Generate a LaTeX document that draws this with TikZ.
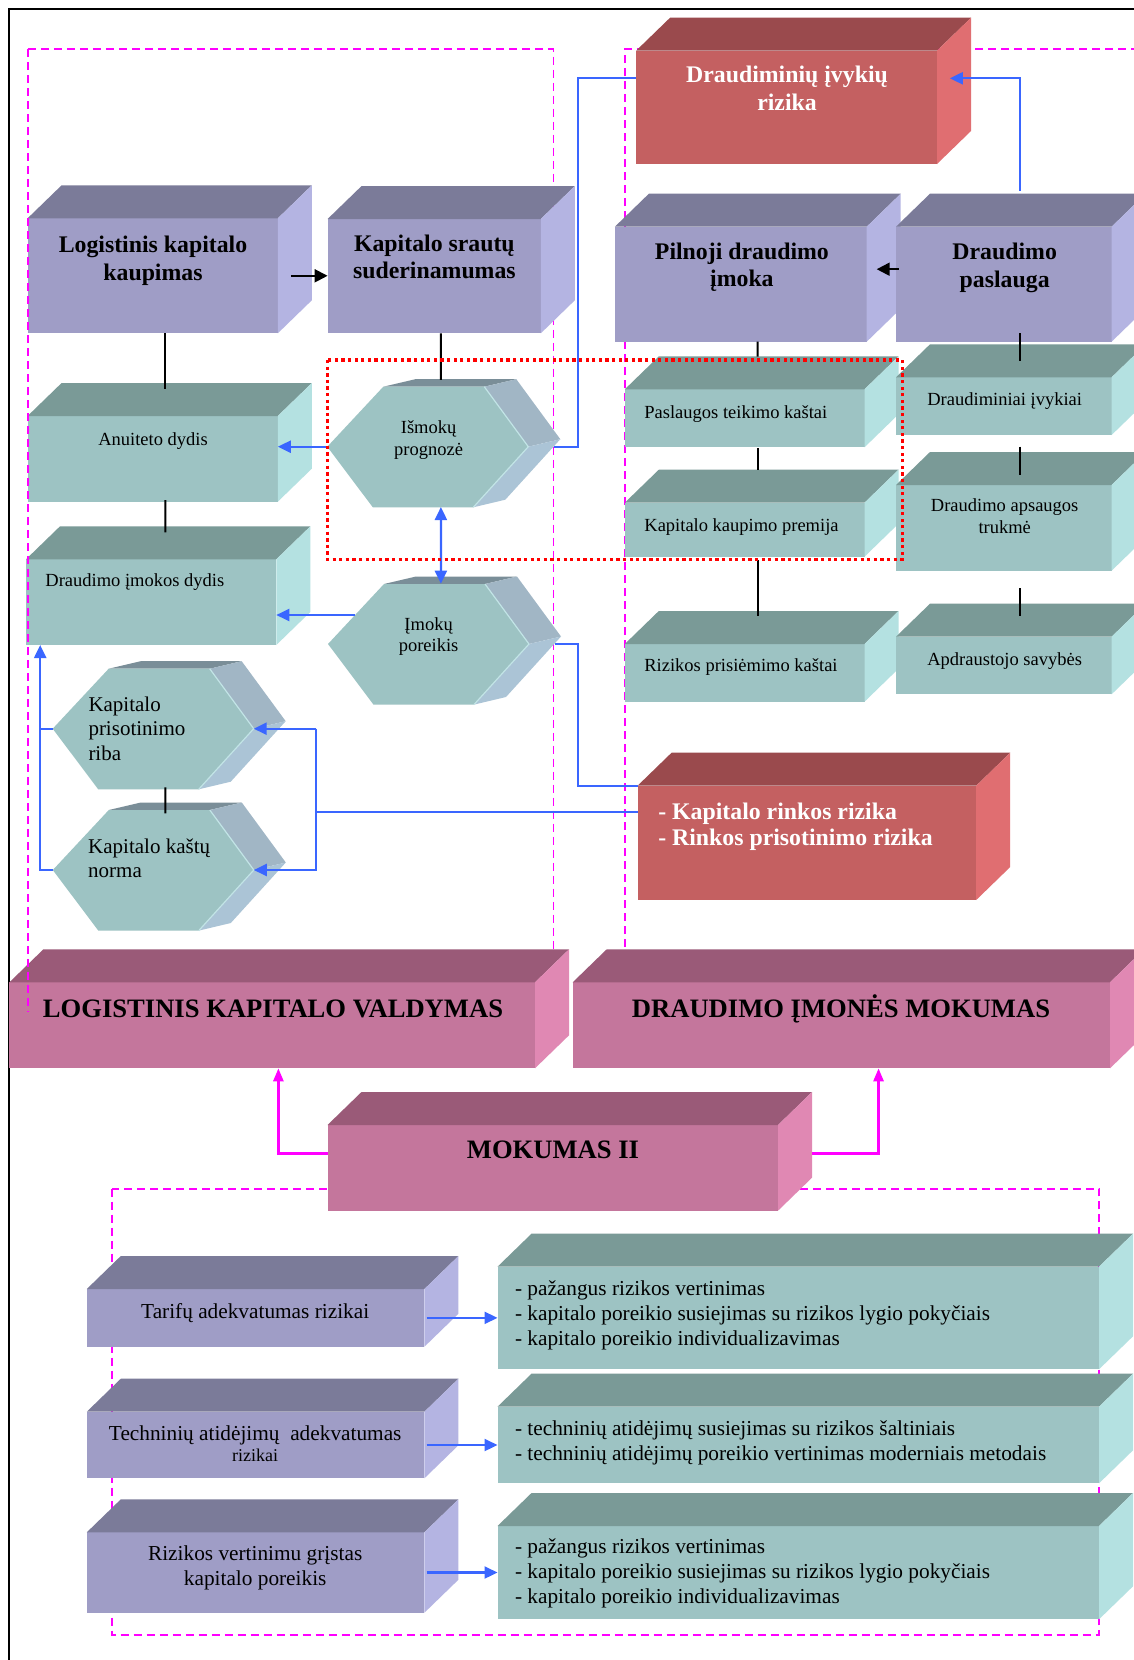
\documentclass[tikz,border=0pt]{standalone}
\usepackage{fontspec}
\setmainfont{Liberation Serif}
\usetikzlibrary{calc,arrows.meta}

\definecolor{pufront}{HTML}{9F9DC6}
\definecolor{putop}{HTML}{7B7B99}
\definecolor{puside}{HTML}{B4B4E2}
\definecolor{tefront}{HTML}{9DC3C3}
\definecolor{tetop}{HTML}{7A9A97}
\definecolor{teside}{HTML}{B4E1E1}
\definecolor{refront}{HTML}{C46061}
\definecolor{retop}{HTML}{9A4A4D}
\definecolor{reside}{HTML}{E06E71}
\definecolor{pifront}{HTML}{C4769C}
\definecolor{pitop}{HTML}{9A5A78}
\definecolor{piside}{HTML}{E088B3}
\definecolor{hxtop}{HTML}{7A8E98}
\definecolor{hxup}{HTML}{A1B6C5}
\definecolor{hxlow}{HTML}{ABC4D6}
\definecolor{hxedge}{HTML}{C2E4E6}
\definecolor{lblue}{HTML}{3A66FF}
\definecolor{mag}{HTML}{FF00FF}

\tikzset{
  facebox/.style={rectangle, inner sep=0pt, outer sep=0pt, draw=none},
  hexnode/.style={rectangle, inner sep=0pt, outer sep=0pt, draw=none, minimum width=201pt, minimum height=120.6pt},
  ttl/.style={font=\fontsize{23.8}{27.5}\selectfont\bfseries, align=center, inner sep=0pt, anchor=base},
  wt/.style={ttl, text=white},
  sml/.style={font=\fontsize{18.5}{21.7}\selectfont, align=center, inner sep=0pt, anchor=base},
  hxl/.style={font=\fontsize{21}{24.3}\selectfont, align=left, inner sep=0pt, anchor=base west},
  bot/.style={font=\fontsize{21.3}{25}\selectfont, align=center, inner sep=0pt, anchor=base},
  botl/.style={font=\fontsize{21.3}{25}\selectfont, align=left, inner sep=0pt, anchor=base west},
  big/.style={font=\fontsize{26.6}{30}\selectfont\bfseries, inner sep=0pt, anchor=base},
  blk/.style={line width=2pt, black},
  blkarr/.style={blk, -{Triangle[length=13pt,width=13pt]}},
  bl/.style={line width=2.2pt, lblue},
  blarr/.style={bl, -{Triangle[length=13pt,width=12pt]}},
  mg/.style={line width=2.6pt, mag},
  mgarr/.style={mg, -{Triangle[length=13pt,width=10pt]}},
  dsh/.style={mag, line width=1.6pt, dash pattern=on 8pt off 5pt},
  rdot/.style={red, line width=3.3pt, dash pattern=on 3.3pt off 3.3pt},
}

% cuboid: name, x1, y1, x2, y2 (front face), front, top, side colours
\newcommand\cub[8]{%
  \node[facebox, fill=#6, minimum width={(#4-#2)*1pt}, minimum height={(#5-#3)*1pt}] (#1) at ({(#2+#4)/2},{(#3+#5)/2}) {};
  \fill[#7] (#1.north west) -- ++(34,-33) -- ($(#1.north east)+(34,-33)$) -- (#1.north east) -- cycle;
  \fill[#8] (#1.north east) -- ++(34,-33) -- ($(#1.south east)+(34,-33)$) -- (#1.south east) -- cycle;
}

% hexagonal prism: name, x of left point, y of centre
\newcommand\hexa[3]{%
  \fill[hxtop] ({#2+56},{#3-60}) -- ({#2+88},{#3-67.5}) -- ({#2+189},{#3-67.5}) -- ({#2+157},{#3-60}) -- cycle;
  \fill[hxup] ({#2+157},{#3-60}) -- ({#2+189},{#3-67.5}) -- ({#2+233},{#3-7.5}) -- ({#2+201},{#3}) -- cycle;
  \fill[hxlow] ({#2+201},{#3}) -- ({#2+233},{#3-7.5}) -- ({#2+178},{#3+53}) -- ({#2+146},{#3+60.6}) -- cycle;
  \fill[tefront] (#2,#3) -- ({#2+56},{#3-60}) -- ({#2+157},{#3-60}) -- ({#2+201},{#3}) -- ({#2+146},{#3+60.6}) -- ({#2+45.5},{#3+60.6}) -- cycle;
  \draw[hxedge, line width=1.2pt] ({#2+157},{#3-60}) -- ({#2+201},{#3}) -- ({#2+146},{#3+60.6});
  \node[hexnode] (#1) at ({#2+100.5},#3) {};
}

\begin{document}
\begin{tikzpicture}[x=1pt, y=-1pt]
\useasboundingbox (0,0) rectangle (1134,1660);
\clip (0,0) rectangle (1134,1660);
\fill[white] (0,0) rectangle (1134,1660);

% outer frame
\draw[line width=1.5pt] (9,1700) -- (9,9) -- (1200,9);

% dashed group frames (behind)
\draw[dsh] (27.9,49) -- (553.4,49) -- (553.4,1012);
\draw[dsh] (625.2,1012) -- (625.2,49) -- (1140,49);
\draw[dsh] (112,1188.7) rectangle (1099,1635);

% top purple boxes
\cub{logkap}{27.6}{218.3}{277.8}{333.3}{pufront}{putop}{puside}
\cub{kapsr}{327.6}{219}{540.8}{333.3}{pufront}{putop}{puside}
\cub{pilnoji}{614.9}{226.7}{866.7}{341.7}{pufront}{putop}{puside}
\cub{paslauga}{896}{226.7}{1111.6}{341.7}{pufront}{putop}{puside}
\cub{drrizika}{636.1}{50.7}{937}{164}{refront}{retop}{reside}

% teal boxes
\cub{anuit}{27.6}{416}{277.8}{501.7}{tefront}{tetop}{teside}
\cub{drimok}{26}{559.3}{276.3}{645}{tefront}{tetop}{teside}
\cub{paslk}{624.8}{389.3}{864.5}{447.3}{tefront}{tetop}{teside}
\cub{kapkaup}{624.8}{502.7}{864.5}{556.7}{tefront}{tetop}{teside}
\cub{rizpris}{624.8}{644}{864.5}{701.7}{tefront}{tetop}{teside}
\cub{drivyk}{896}{377.3}{1111.6}{435}{tefront}{tetop}{teside}
\cub{drapsaug}{896}{485}{1111.6}{570.7}{tefront}{tetop}{teside}
\cub{apdr}{896}{636.7}{1111.6}{694.3}{tefront}{tetop}{teside}

\cub{kaprink}{637.6}{785.7}{976.2}{900}{refront}{retop}{reside}

% hexagons
\hexa{ismok}{327.3}{446.7}
\hexa{imok}{328}{644}
\hexa{kprs}{52.7}{728.7}
\hexa{kkn}{52.8}{870}

% pink boxes
\cub{logval}{9.4}{982.3}{535}{1068.3}{pifront}{pitop}{piside}
\cub{drmok}{572.7}{982.3}{1110}{1068.3}{pifront}{pitop}{piside}
\cub{mokII}{327.5}{1125}{778}{1210.7}{pifront}{pitop}{piside}

% bottom boxes
\cub{tarifu}{86.8}{1289}{424.4}{1346.7}{pufront}{putop}{puside}
\cub{techn}{86.8}{1411.7}{424.4}{1478.3}{pufront}{putop}{puside}
\cub{rizver}{86.8}{1532.3}{424.4}{1612.7}{pufront}{putop}{puside}
\cub{tone}{497.5}{1266.7}{1099}{1369.3}{tefront}{tetop}{teside}
\cub{ttwo}{497.5}{1406.7}{1099}{1483.3}{tefront}{tetop}{teside}
\cub{tthree}{497.5}{1526}{1099}{1619.3}{tefront}{tetop}{teside}

% texts (for multi-line nodes the base anchor is the last line's baseline)
\node[ttl] (tlogkap) at (153,280) {Logistinis kapitalo\\kaupimas};
\node[ttl] (tkapsr) at (434.4,278.5) {Kapitalo srautų\\suderinamumas};
\node[ttl] (tpilnoji) at (741.9,286.5) {Pilnoji draudimo\\įmoka};
\node[ttl] (tpaslauga) at (1004.7,287) {Draudimo\\paslauga};
\node[wt] (tdrrizika) at (787,110) {Draudiminių įvykių\\rizika};
\node[sml] (tanuit) at (153,445) {Anuiteto dydis};
\node[sml, anchor=base west] (tdrimok) at (45.2,586) {Draudimo įmokos dydis};
\node[sml, anchor=base west] (tpaslk) at (644.2,418.3) {Paslaugos teikimo kaštai};
\node[sml, anchor=base west] (tkapkaup) at (644.2,531.7) {Kapitalo kaupimo premija};
\node[sml, anchor=base west] (trizpris) at (644.2,671.7) {Rizikos prisiėmimo kaštai};
\node[sml] (tdrivyk) at (1004.7,405) {Draudiminiai įvykiai};
\node[sml] (tdrapsaug) at (1004.7,533.3) {Draudimo apsaugos\\trukmė};
\node[sml] (tapdr) at (1004.7,665) {Apdraustojo savybės};
\node[sml] (tismok) at (428.6,455) {Išmokų\\prognozė};
\node[sml] (timok) at (428.6,651.7) {Įmokų\\poreikis};
\node[hxl] (tkprs) at (88.3,760) {Kapitalo\\prisotinimo\\riba};
\node[hxl] (tkkn) at (88,877.7) {Kapitalo kaštų\\norma};
\node[wt, align=left, anchor=base west] (tkaprink) at (658.1,845.7) {- Kapitalo rinkos rizika\\[-1pt]- Rinkos prisotinimo rizika};
\node[big] (tlogval) at (273,1017.3) {LOGISTINIS KAPITALO VALDYMAS};
\node[big] (tdrmok) at (841,1017.3) {DRAUDIMO ĮMONĖS MOKUMAS};
\node[big] (tmokII) at (553,1158.3) {MOKUMAS II};
\node[bot] (ttarifu) at (255.2,1318.3) {Tarifų adekvatumas rizikai};
\node[bot] (ttechn) at (255.2,1440) {Techninių atidėjimų\ \ adekvatumas};
\node[sml, font=\fontsize{18}{21}\selectfont] (ttechnb) at (255.2,1461.7) {rizikai};
\node[bot] (trizver) at (255.2,1585.7) {Rizikos vertinimu grįstas\\kapitalo poreikis};
\node[botl] (ttone) at (514.8,1345) {- pažangus rizikos vertinimas\\- kapitalo poreikio susiejimas su rizikos lygio pokyčiais\\- kapitalo poreikio individualizavimas};
\node[botl] (tttwo) at (514.8,1460) {- techninių atidėjimų susiejimas su rizikos šaltiniais\\- techninių atidėjimų poreikio vertinimas moderniais metodais};
\node[botl] (ttthree) at (514.8,1603.3) {- pažangus rizikos vertinimas\\- kapitalo poreikio susiejimas su rizikos lygio pokyčiais\\- kapitalo poreikio individualizavimas};

% black connectors
\draw[blkarr] ($(logkap.east)+(13,0)$) -- (kapsr.west |- logkap.east);
\draw[blkarr] ($(paslauga.west)+(2.6,-15)$) -- ($(pilnoji.east)+(10,-15)$);
\draw[blk] ($(logkap.south)+(12.6,0)$) -- ($(anuit.north)+(12.6,-26.7)$);
\draw[blk] ($(anuit.south)+(12.6,-1.7)$) -- ($(drimok.north)+(14.2,-27)$);
\draw[blk] ($(kapsr.south)+(6.7,0)$) -- ($(ismok.north)+(13.1,-6.5)$);
\draw[blk] ($(pilnoji.south)+(16.9,0)$) -- ($(paslk.north)+(13,-32.6)$);
\draw[blk] ($(paslauga.south)+(16.3,-8.4)$) -- ($(drivyk.north)+(16.3,-16.3)$);
\draw[blk] ($(paslk.south)+(13,1)$) -- ($(kapkaup.north)+(13,-32.7)$);
\draw[blk] ($(drivyk.south)+(16.3,11.7)$) -- ($(drapsaug.north)+(16.3,-10)$);
\draw[blk] ($(kapkaup.south)+(13,3.3)$) -- ($(rizpris.north)+(13,-28)$);
\draw[blk] ($(drapsaug.south)+(16.3,17.6)$) -- ($(apdr.north)+(16.3,-20.7)$);
\draw[blk] ($(kprs.south)+(12.1,-1.7)$) -- ($(kkn.north)+(12.1,3.6)$);

% blue connectors
\draw[bl] ($(ismok.east)+(26,0)$) -| ($(drrizika.north west)+(-58.5,27.6)$) -- ($(drrizika.north west)+(0,27.6)$);
\draw[blarr] ($(paslauga.north)+(16.3,-36)$) |- ($(drrizika.north east)+(12.8,27.6)$);
\draw[blarr] (ismok.west) -- (anuit.east |- ismok.west);
\draw[bl, {Triangle[length=13pt,width=12pt]}-{Triangle[length=13pt,width=12pt]}] ($(ismok.south)+(13.1,0)$) -- ($(imok.north)+(12.4,0)$);
\coordinate (pimok) at ($(imok.west)+(27,-29)$);
\draw[blarr] (pimok) -- (drimok.east |- pimok);
\draw[bl] ($(imok.east)+(26,0)$) -| ($(kaprink.north west)+(-60,0)$) -- (kaprink.north west);
\coordinate (qv) at ($(kaprink.north west)+(-321.9,26.6)$);
\draw[bl] ($(kaprink.north west)+(0,26.6)$) -- (qv);
\draw[blarr] (qv |- kprs.east) -- (kprs.east);
\draw[blarr] (qv |- kprs.east) -- (qv |- kkn.east) -- (kkn.east);
\coordinate (lv) at ($(drimok.south west)+(14.2,0)$);
\draw[blarr] (kkn.west) -| (lv);
\draw[bl] (kprs.west) -- (kprs.west -| lv);

% magenta connectors
\draw[mgarr] ($(mokII.west)+(0,-14.5)$) -| ($(logval.south)+(6.2,0)$);
\draw[mgarr] ($(mokII.east)+(34,-14.5)$) -| ($(drmok.south)+(37.2,0)$);

% bottom blue arrows
\draw[blarr] ($(tarifu.east)+(2.2,0)$) -- (tone.west |- tarifu.east);
\draw[blarr] ($(techn.east)+(2.2,0)$) -- (ttwo.west |- techn.east);
\draw[blarr] ($(rizver.east)+(2.2,0)$) -- (tthree.west |- rizver.east);

% overlays
\draw[dsh] (27.9,49) -- (27.9,1012);
\draw[rdot] (327.2,360) rectangle (902.2,559.3);
\end{tikzpicture}
\end{document}
